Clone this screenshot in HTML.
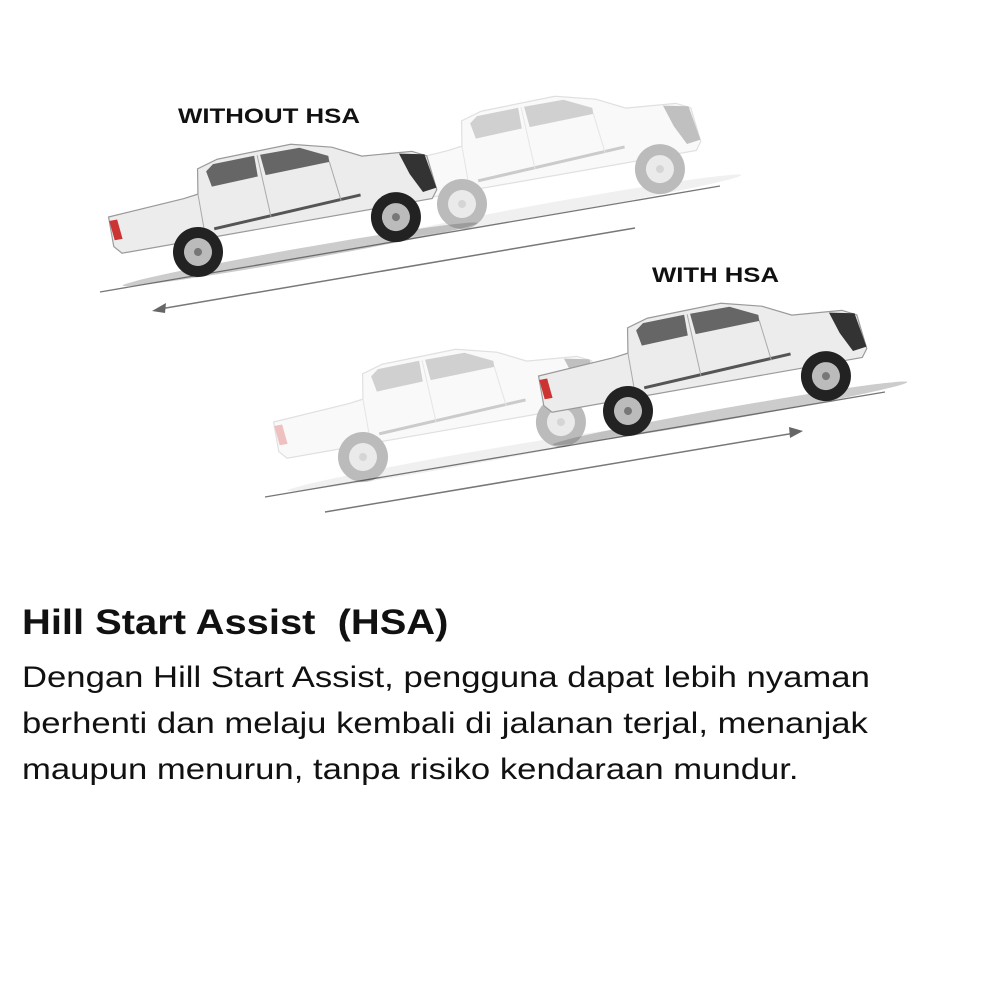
<!DOCTYPE html>
<html><head><meta charset="utf-8"><style>
html,body{margin:0;padding:0;background:#fff;width:1000px;height:1000px;overflow:hidden}
.t{position:absolute;left:22px;font-family:"Liberation Sans",sans-serif;color:#111;transform-origin:0 0;white-space:nowrap}
</style></head><body>
<svg width="1000" height="560" style="position:absolute;left:0;top:0">
<defs>
<g id="truck">
  <ellipse cx="100" cy="20" rx="180" ry="6" fill="#555" opacity="0.3"/>
  <path d="M-82,-50 L-5,-55 L10,-57 L14,-82 L35,-88 L110,-90 L150,-80 L178,-66 L228,-62 L242,-55 L246,-20 L240,-12 L-75,-12 L-82,-20 Z" fill="#ececec" stroke="#9a9a9a" stroke-width="1.2"/>
  <path d="M22,-78 L30,-84 L72,-85 L72,-64 L25,-62 Z" fill="#666"/>
  <path d="M78,-85 L118,-85 L145,-72 L145,-66 L80,-64 Z" fill="#666"/>
  <path d="M215,-62 L240,-57 L246,-22 L232,-20 L222,-40 Z" fill="#333"/>
  <path d="M-82,-46 L-74,-46 L-72,-26 L-80,-26 Z" fill="#c33"/>
  <path d="M20,-20 L170,-28" stroke="#555" stroke-width="3"/>
  <path d="M10,-57 L10,-15 M75,-85 L78,-22 M145,-66 L150,-25" stroke="#aaa" stroke-width="1"/>
  <circle cx="0" cy="0" r="25" fill="#222"/><circle cx="0" cy="0" r="14" fill="#bbb"/><circle cx="0" cy="0" r="4" fill="#777"/>
  <circle cx="201" cy="0" r="25" fill="#222"/><circle cx="201" cy="0" r="14" fill="#bbb"/><circle cx="201" cy="0" r="4" fill="#777"/>
</g>
</defs>
<line x1="100" y1="292" x2="720" y2="186" stroke="#777" stroke-width="1.3"/>
<line x1="635" y1="228" x2="160" y2="309" stroke="#777" stroke-width="1.5"/>
<path d="M152,311 L166,303 L165,313 Z" fill="#666"/>
<g opacity="0.3" transform="translate(462,204) rotate(-10)"><use href="#truck"/></g>
<g transform="translate(198,252) rotate(-10)"><use href="#truck"/></g>
<line x1="265" y1="497" x2="885" y2="392" stroke="#777" stroke-width="1.3"/>
<line x1="325" y1="512" x2="795" y2="433" stroke="#777" stroke-width="1.5"/>
<path d="M803,431 L789,427 L790,438 Z" fill="#666"/>
<g opacity="0.3" transform="translate(363,457) rotate(-10)"><use href="#truck"/></g>
<g transform="translate(628,411) rotate(-10)"><use href="#truck"/></g>
<text x="178" y="123" font-family="Liberation Sans,sans-serif" font-weight="bold" font-size="21" fill="#111" textLength="182" lengthAdjust="spacingAndGlyphs">WITHOUT HSA</text>
<text x="652" y="282" font-family="Liberation Sans,sans-serif" font-weight="bold" font-size="21" fill="#111" textLength="127" lengthAdjust="spacingAndGlyphs">WITH HSA</text>
</svg>
<div class="t" style="top:603px;font-size:35px;font-weight:bold;transform:scaleX(1.14)">Hill Start Assist&nbsp; (HSA)</div>
<div class="t" style="top:655px;font-size:29.5px;line-height:46px;transform:scaleX(1.175)">Dengan Hill Start Assist, pengguna dapat lebih nyaman<br>berhenti dan melaju kembali di jalanan terjal, menanjak<br>maupun menurun, tanpa risiko kendaraan mundur.</div>
</body></html>
